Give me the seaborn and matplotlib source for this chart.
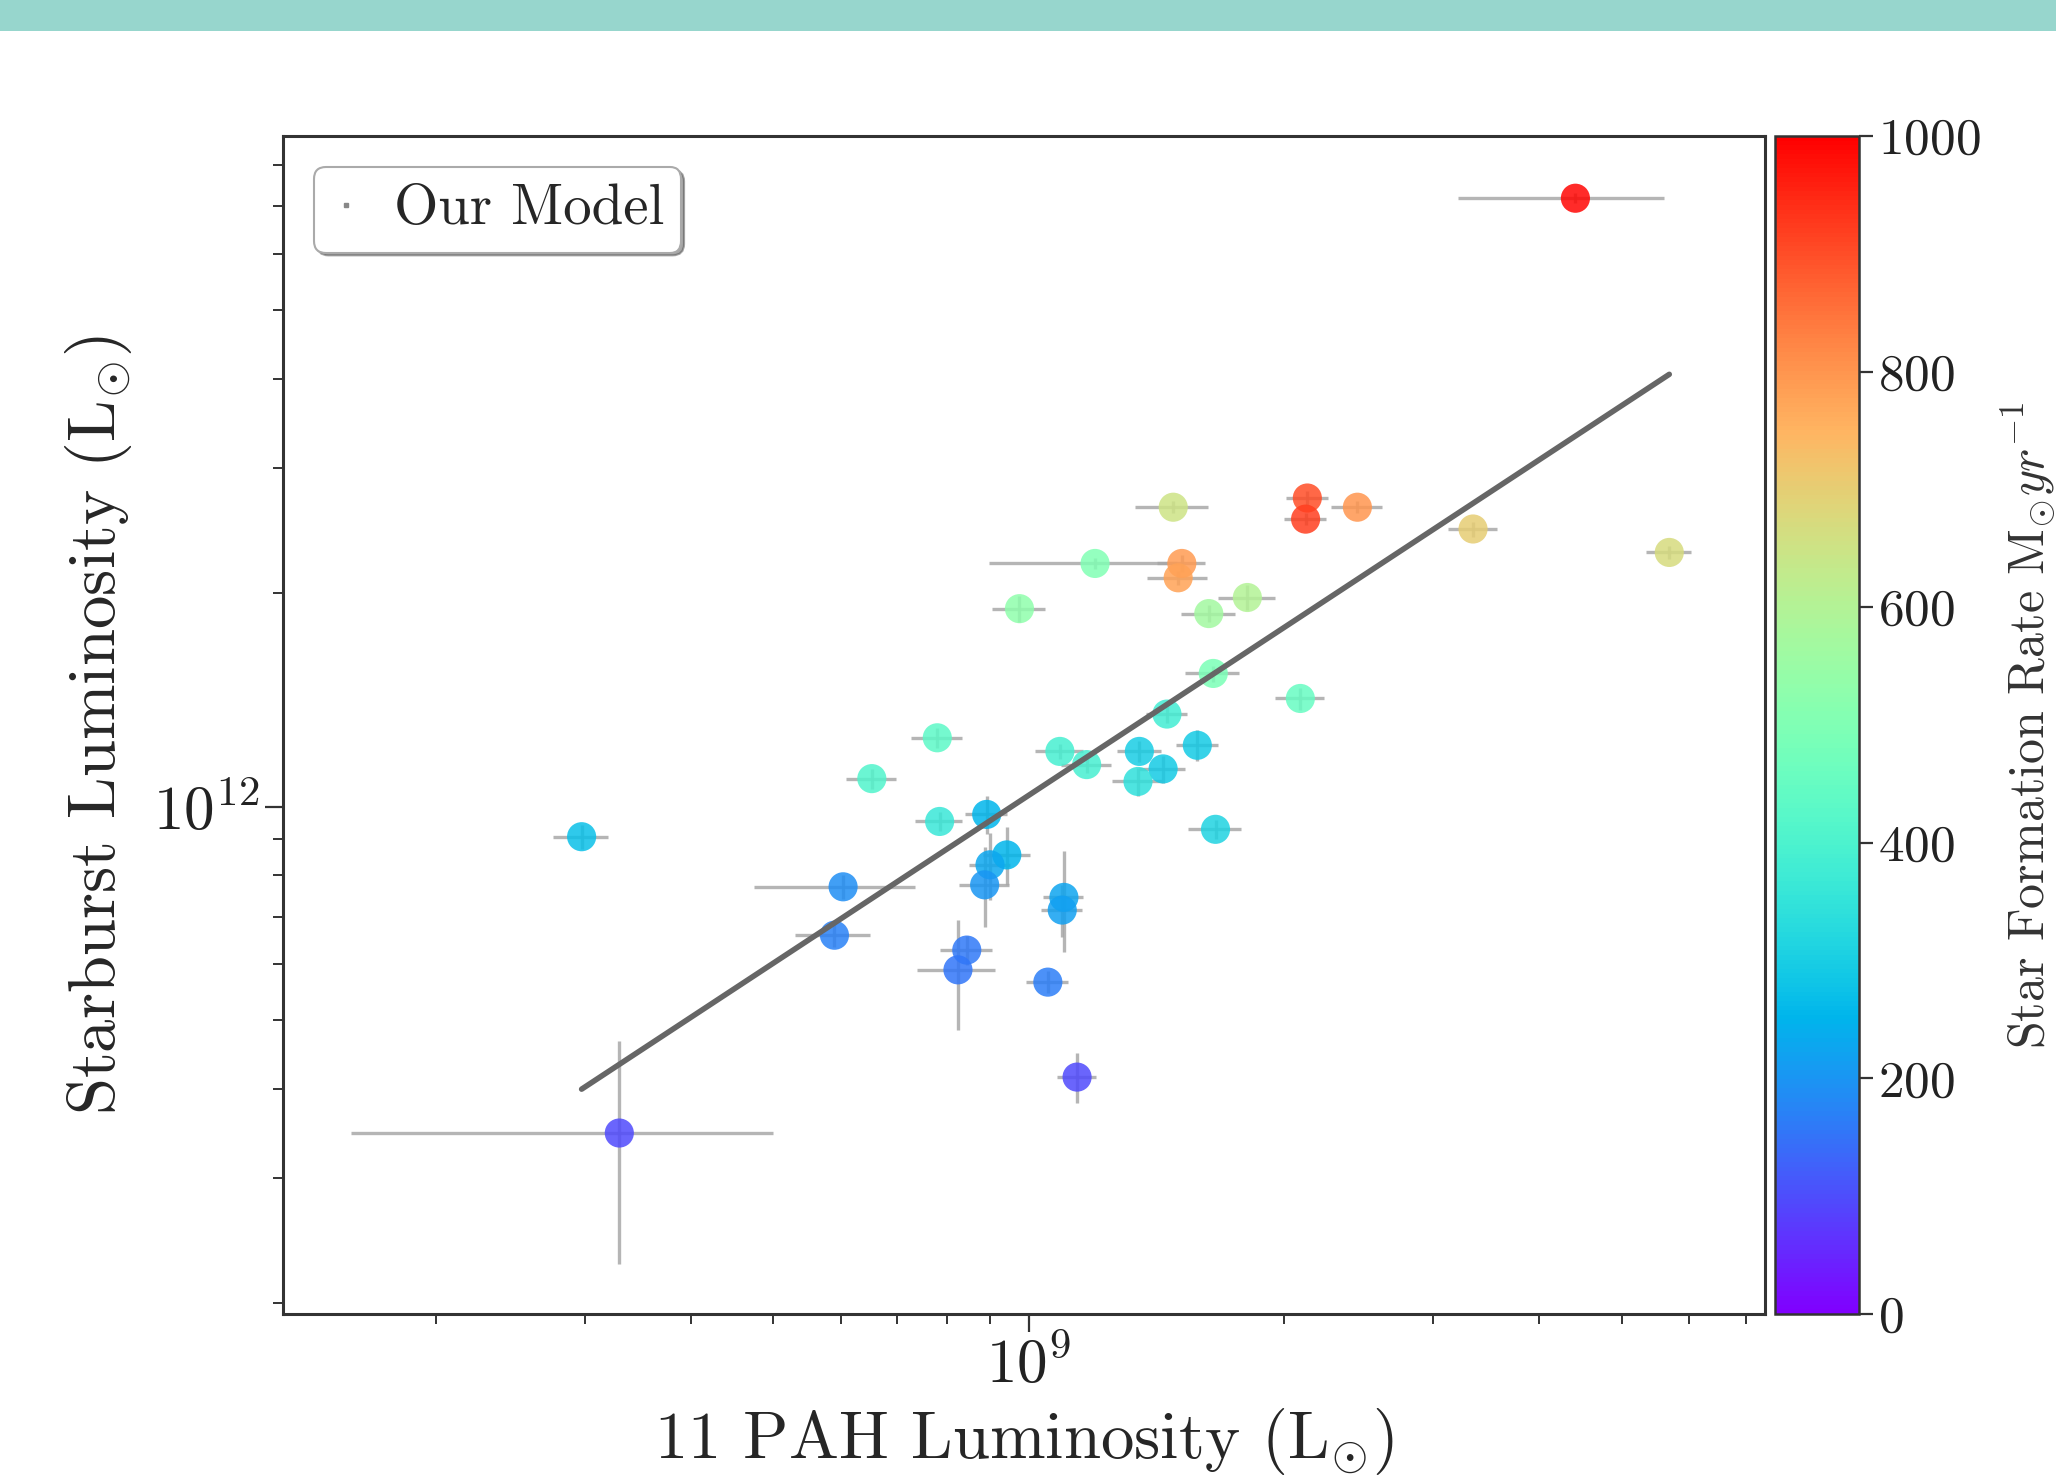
"""
Starburst vs 11um PAH luminosity, coloured by star formation rate.
"""
import numpy as np
import matplotlib
matplotlib.use("Agg")
import matplotlib.pyplot as plt
from matplotlib.patches import Rectangle
from matplotlib.lines import Line2D
import seaborn as sns
import pandas as pd

# Data
# PAH luminosity in 1e9 Lsun, starburst luminosity in 1e12 Lsun
pah_lum = [4.41, 0.329, 0.297, 0.780, 0.653, 0.785, 0.892, 0.942, 0.900, 0.887,
           0.604, 0.590, 0.845, 0.825, 1.100, 1.095, 1.053, 1.140, 1.088, 1.170,
           1.350, 1.440, 1.345, 1.455, 1.580, 1.660, 1.650, 1.480, 2.130, 2.120,
           2.440, 3.340, 5.690, 1.197, 1.515, 1.500, 1.810, 1.630, 2.090, 0.975]
sb_lum = [7.19, 0.347, 0.907, 1.250, 1.095, 0.953, 0.975, 0.855, 0.828, 0.776,
          0.771, 0.659, 0.628, 0.589, 0.745, 0.715, 0.566, 0.416, 1.196, 1.146,
          1.196, 1.130, 1.085, 1.350, 1.220, 0.929, 1.540, 2.640, 2.720, 2.540,
          2.640, 2.460, 2.280, 2.200, 2.200, 2.100, 1.970, 1.870, 1.420, 1.900]
sfr = [990, 95, 270, 430, 410, 360, 250, 250, 230, 200,
       190, 170, 160, 155, 225, 215, 165, 95, 390, 390,
       300, 290, 340, 380, 290, 310, 490, 650, 900, 920,
       800, 700, 670, 500, 790, 780, 600, 570, 450, 530]
pah_err = [1.20, 0.170, 0.022, 0.054, 0.045, 0.050, 0.050, 0.060, 0.050, 0.060,
           0.130, 0.060, 0.060, 0.087, 0.060, 0.060, 0.060, 0.060, 0.070, 0.080,
           0.080, 0.090, 0.090, 0.080, 0.090, 0.120, 0.120, 0.145, 0.120, 0.120,
           0.170, 0.220, 0.350, 0.300, 0.100, 0.120, 0.140, 0.120, 0.140, 0.070]
sb_err = [0.12, 0.120, 0.035, 0.040, 0.035, 0.030, 0.060, 0.080, 0.090, 0.100,
          0.030, 0.025, 0.030, 0.104, 0.120, 0.060, 0.020, 0.034, 0.030, 0.030,
          0.040, 0.050, 0.050, 0.040, 0.060, 0.030, 0.040, 0.050, 0.060, 0.050,
          0.050, 0.060, 0.050, 0.040, 0.060, 0.050, 0.080, 0.050, 0.050, 0.080]

# log-log fit: log L_SB = slope * log L_PAH + intercept
fit_slope = 0.785
fit_intercept = 4.951

SFR_RANGE = (0, 1000)
cbar_ticks = [0, 200, 400, 600, 800, 1000]

df = pd.DataFrame({
    "pah": np.array(pah_lum) * 1e9,
    "sb": np.array(sb_lum) * 1e12,
    "sfr": sfr,
    "pah_err": np.array(pah_err) * 1e9,
    "sb_err": np.array(sb_err) * 1e12,
})

# Style
sns.set_style("ticks")
plt.rcParams["font.family"] = ["cmr10", "DejaVu Serif"]
plt.rcParams["mathtext.fontset"] = "cm"
plt.rcParams["axes.formatter.use_mathtext"] = True
plt.rcParams["axes.unicode_minus"] = False

fig = plt.figure(figsize=(20.56, 14.79), dpi=100)
fig.patches.append(Rectangle((0, 1 - 31 / 1479), 1, 31 / 1479, transform=fig.transFigure,
                             facecolor="#97d6cd", edgecolor="none", zorder=0))

ax = fig.add_axes([0.1376, 0.1116, 0.7209, 0.7965])
cax = fig.add_axes([0.8633, 0.1116, 0.0409, 0.7965])

# Error bars
ax.errorbar(df["pah"], df["sb"], xerr=df["pah_err"], yerr=df["sb_err"], fmt="none",
            ecolor="#a8a8a8", elinewidth=2.4, alpha=0.85, zorder=1)

# Points coloured by SFR
sns.scatterplot(data=df, x="pah", y="sb", hue="sfr", palette="rainbow", hue_norm=SFR_RANGE,
                s=440, alpha=0.85, edgecolor="none", legend=False, ax=ax, zorder=2)

# Fit line over the data range
fit_x = np.array([df["pah"].min(), df["pah"].max()])
fit_y = 10 ** (fit_slope * np.log10(fit_x) + fit_intercept)
ax.plot(fit_x, fit_y, color="#666666", linewidth=4, zorder=3)

ax.set_xscale("log")
ax.set_yscale("log")
ax.set_xlim(1.32e8, 7.38e9)
ax.set_ylim(1.93e11, 8.8e12)

ax.set_xlabel(r"11 PAH Luminosity (L$_{\odot}$)", fontsize=48, labelpad=8)
ax.set_ylabel(r"Starburst Luminosity (L$_{\odot}$)", fontsize=48, labelpad=14)
ax.tick_params(which="major", length=13, width=1.6, labelsize=44, direction="out", colors="#333333")
ax.tick_params(which="minor", length=7, width=1.4, direction="out", colors="#333333")
ax.tick_params(axis="both", labelcolor="#222222")
for sp in ax.spines.values():
    sp.set_linewidth(2.2)
    sp.set_color("#333333")

handle = Line2D([], [], marker="s", markersize=3, color="#888888", linestyle="none")
leg = ax.legend([handle], ["Our Model"], loc="upper left", fontsize=41, frameon=True,
                fancybox=True, shadow=True, handlelength=0.5, handletextpad=0.6,
                borderpad=0.3, borderaxespad=0.55)
leg.get_frame().set_edgecolor("#aaaaaa")
leg.get_frame().set_linewidth(1.5)

# Colorbar
sm = plt.cm.ScalarMappable(cmap="rainbow", norm=plt.Normalize(*SFR_RANGE))
cbar = fig.colorbar(sm, cax=cax, ticks=cbar_ticks)
cbar.outline.set_linewidth(1.8)
cbar.outline.set_edgecolor("#333333")
cbar.ax.tick_params(labelsize=37, length=10, width=1.6, colors="#333333", labelcolor="#222222")
cbar.set_label(r"Star Formation Rate M$_{\odot}yr^{-1}$", fontsize=36, labelpad=14, color="#333333")

fig.savefig("out.png", dpi=100)
